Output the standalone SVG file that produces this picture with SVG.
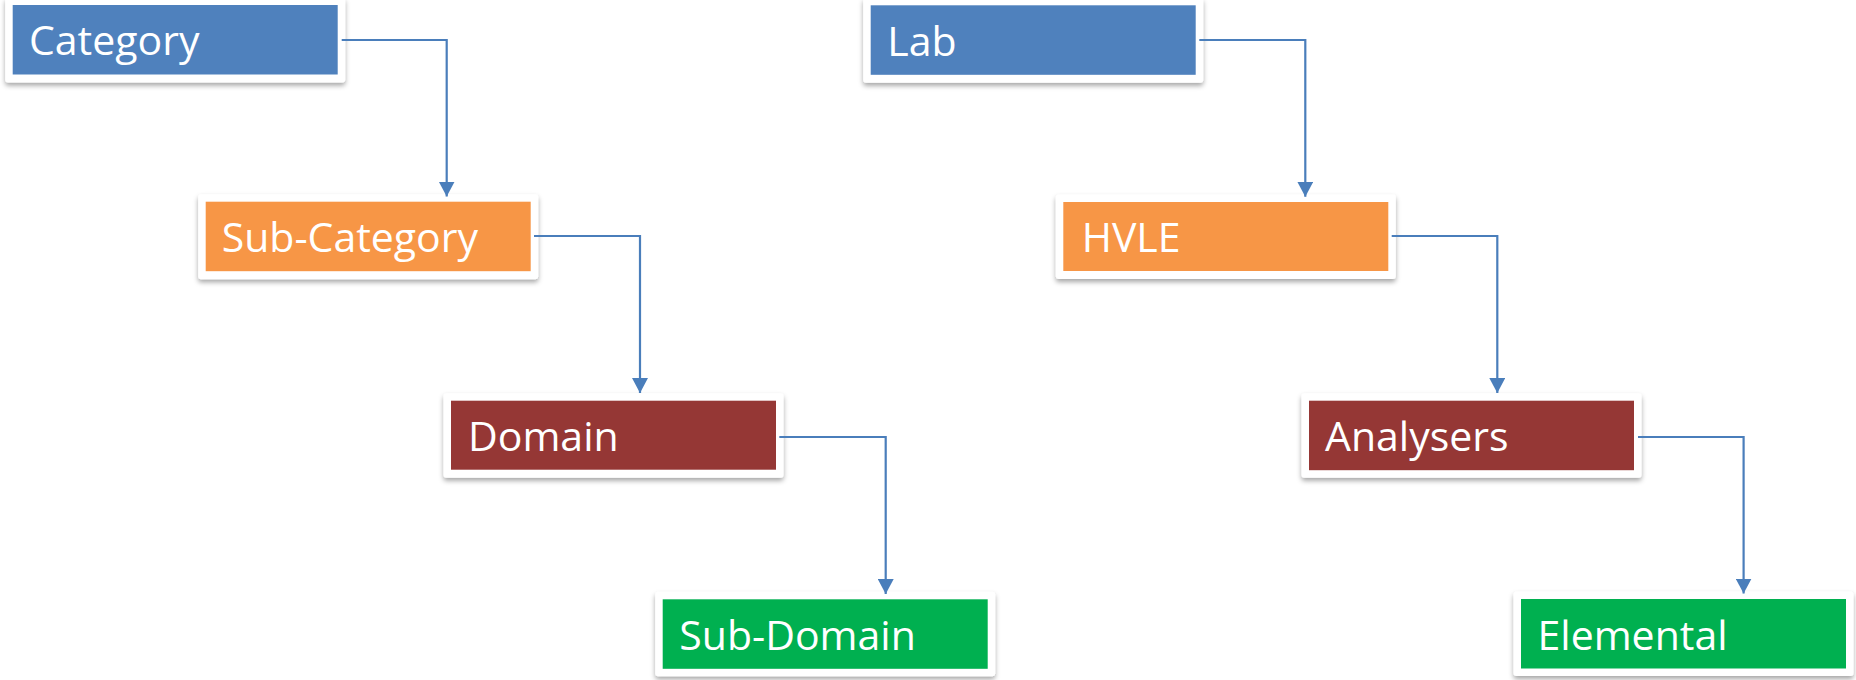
<svg xmlns="http://www.w3.org/2000/svg" width="1856" height="680" viewBox="0 0 1856 680">
<defs>
<filter id="sh" x="-10%" y="-20%" width="120%" height="160%">
<feDropShadow dx="0" dy="3" stdDeviation="2.5" flood-color="#000" flood-opacity="0.35"/>
</filter>
<marker id="arr" markerUnits="userSpaceOnUse" markerWidth="16" markerHeight="16" viewBox="0 0 16 16" refX="15" refY="8" orient="auto">
<path d="M0,0 L15,8 L0,16 Z" fill="#4A7EBB"/>
</marker>
</defs>
<style>
.frame{fill:#fff;filter:url(#sh)}
.blue{fill:#4F81BD}
.orange{fill:#F79646}
.red{fill:#953735}
.green{fill:#00B050}
.lbl{font-family:"Open Sans","Noto Sans",sans-serif;font-size:41px;fill:#fff}
.con{fill:none;stroke:#4A7EBB;stroke-width:2.2;marker-end:url(#arr)}
</style>
<rect width="1856" height="680" fill="#fff"/>
<g id="node-category">
<rect class="frame" x="5.2" y="-2.5" width="340" height="85" rx="3"/>
<rect class="blue" x="12.7" y="5" width="325" height="69.5"/>
<text class="lbl" x="29" y="55">Category</text>
</g>
<g id="node-subcategory">
<rect class="frame" x="198.2" y="194.2" width="340" height="85" rx="3"/>
<rect class="orange" x="205.7" y="201.7" width="325" height="69.5"/>
<text class="lbl" x="221.7" y="251.7">Sub-Category</text>
</g>
<g id="node-domain">
<rect class="frame" x="443.5" y="393.2" width="340" height="84.5" rx="3"/>
<rect class="red" x="451" y="400.7" width="325" height="69"/>
<text class="lbl" x="468" y="450.7">Domain</text>
</g>
<g id="node-subdomain">
<rect class="frame" x="655.2" y="591.8" width="340" height="84.5" rx="3"/>
<rect class="green" x="662.7" y="599.3" width="325" height="69.5"/>
<text class="lbl" x="679.3" y="650">Sub-Domain</text>
</g>
<g id="node-lab">
<rect class="frame" x="863.2" y="-2.2" width="340" height="85" rx="3"/>
<rect class="blue" x="870.7" y="5.3" width="325" height="69.5"/>
<text class="lbl" x="887.3" y="56">Lab</text>
</g>
<g id="node-hvle">
<rect class="frame" x="1055.8" y="194.5" width="340" height="84.5" rx="3"/>
<rect class="orange" x="1063.3" y="202" width="325" height="69"/>
<text class="lbl" x="1081.7" y="251.7">HVLE</text>
</g>
<g id="node-analysers">
<rect class="frame" x="1301.5" y="393.2" width="340" height="84.5" rx="3"/>
<rect class="red" x="1309" y="400.7" width="325" height="69.5"/>
<text class="lbl" x="1325" y="450.7">Analysers</text>
</g>
<g id="node-elemental">
<rect class="frame" x="1513.5" y="591.5" width="340" height="84.5" rx="3"/>
<rect class="green" x="1521" y="599" width="325" height="69.5"/>
<text class="lbl" x="1537.5" y="650">Elemental</text>
</g>
<g id="connectors">
<path class="con" d="M341.7 40 H446.7 V196.5"/>
<path class="con" d="M534 236 H640 V393"/>
<path class="con" d="M779.3 437 H885.7 V594"/>
<path class="con" d="M1199.3 40 H1305.3 V196.7"/>
<path class="con" d="M1391.7 236 H1497.3 V393"/>
<path class="con" d="M1638 437 H1743.6 V593.5"/>
</g>
</svg>
